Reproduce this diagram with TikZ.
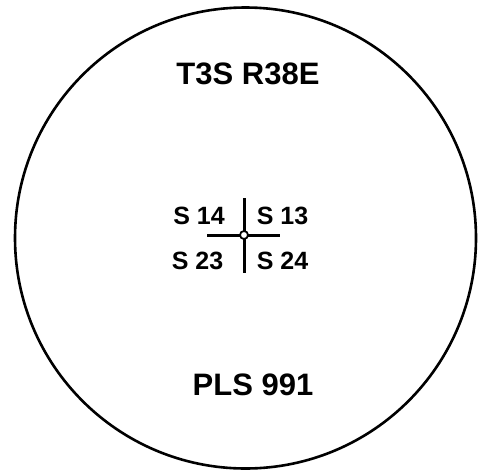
\documentclass[tikz,border=0pt]{standalone}
\usepackage{fontspec}
\setmainfont{Liberation Sans}
\begin{document}
\begin{tikzpicture}[x=1pt,y=-1pt,
  bigtext/.style={font=\fontsize{31}{34}\selectfont\bfseries, inner sep=0pt},
  smalltext/.style={font=\fontsize{25}{28}\selectfont\bfseries, inner sep=0pt},
  crossline/.style={line width=3pt}]
\useasboundingbox (0,0) rectangle (481,471);
\node[draw, circle, line width=2.6pt, minimum size=461pt, inner sep=0pt] (ring) at (245.5,238) {};
\node[bigtext] (top) at (248,74) {T3S R38E};
\node[bigtext] (bot) at (253,385) {PLS 991};
\coordinate (vt) at (244,198);
\coordinate (vb) at (244,273);
\coordinate (hl) at (207,235);
\coordinate (hr) at (280,235);
\draw[crossline] (vt) -- (vb);
\draw[crossline] (hl) -- (hr);
\node[draw, circle, line width=1.8pt, fill=white, minimum size=8pt, inner sep=0pt] (ctr) at (244,235) {};
\node[smalltext] (s14) at (199,216) {S 14};
\node[smalltext] (s13) at (282.5,216) {S 13};
\node[smalltext] (s23) at (197.5,261) {S 23};
\node[smalltext] (s24) at (282.5,261) {S 24};
\end{tikzpicture}
\end{document}
